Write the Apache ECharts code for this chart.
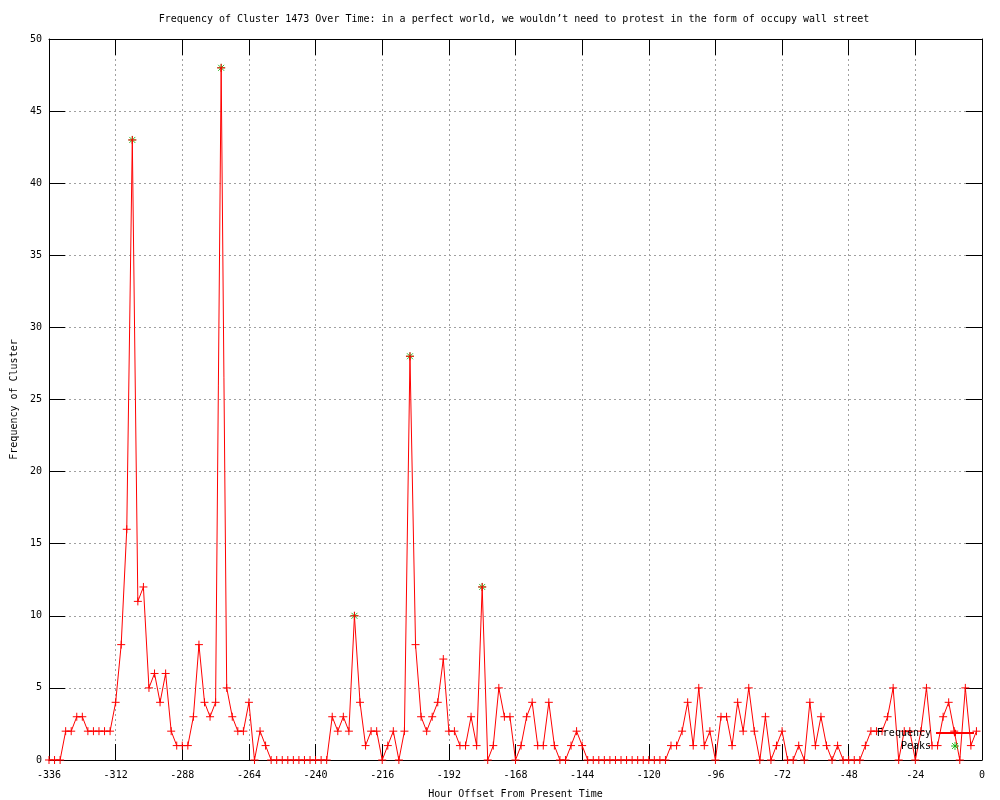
<!DOCTYPE html>
<html>
<head>
<meta charset="utf-8">
<script src="https://cdn.jsdelivr.net/npm/echarts@6/dist/echarts.min.js"></script>
<style>html,body{margin:0;padding:0;background:#fff;}#c{width:1000px;height:800px;}</style>
</head>
<body>
<div id="c"></div>
<script>
const titleText = "Frequency of Cluster 1473 Over Time: in a perfect world, we wouldn\u2019t need to protest in the form of occupy wall street";
const xAxisTitle = "Hour Offset From Present Time";
const yAxisTitle = "Frequency of Cluster";

const hours = [
-336,-334,-332,-330,-328,-326,-324,-322,-320,-318,-316,-314,-312,-310,-308,-306,-304,-302,-300,-298,
-296,-294,-292,-290,-288,-286,-284,-282,-280,-278,-276,-274,-272,-270,-268,-266,-264,-262,-260,-258,
-256,-254,-252,-250,-248,-246,-244,-242,-240,-238,-236,-234,-232,-230,-228,-226,-224,-222,-220,-218,
-216,-214,-212,-210,-208,-206,-204,-202,-200,-198,-196,-194,-192,-190,-188,-186,-184,-182,-180,-178,
-176,-174,-172,-170,-168,-166,-164,-162,-160,-158,-156,-154,-152,-150,-148,-146,-144,-142,-140,-138,
-136,-134,-132,-130,-128,-126,-124,-122,-120,-118,-116,-114,-112,-110,-108,-106,-104,-102,-100,-98,
-96,-94,-92,-90,-88,-86,-84,-82,-80,-78,-76,-74,-72,-70,-68,-66,-64,-62,-60,-58,
-56,-54,-52,-50,-48,-46,-44,-42,-40,-38,-36,-34,-32,-30,-28,-26,-24,-22,-20,-18,
-16,-14,-12,-10,-8,-6,-4,-2
];
const frequency = [
0,0,0,2,2,3,3,2,2,2,2,2,4,8,16,43,11,12,5,6,
4,6,2,1,1,1,3,8,4,3,4,48,5,3,2,2,4,0,2,1,
0,0,0,0,0,0,0,0,0,0,0,3,2,3,2,10,4,1,2,2,
0,1,2,0,2,28,8,3,2,3,4,7,2,2,1,1,3,1,12,0,
1,5,3,3,0,1,3,4,1,1,4,1,0,0,1,2,1,0,0,0,
0,0,0,0,0,0,0,0,0,0,0,0,1,1,2,4,1,5,1,2,
0,3,3,1,4,2,5,2,0,3,0,1,2,0,0,1,0,4,1,3,
1,0,1,0,0,0,0,1,2,2,2,3,5,0,2,2,0,2,5,1,
1,3,4,2,0,5,1,2
];
const peakHours = [-306, -274, -226, -206, -180];
const peakValues = [43, 48, 10, 28, 12];
const xTicks = {min: -336, max: 0, step: 24};
const yTicks = {min: 0, max: 50, step: 5};

const FONT = "'DejaVu Sans Mono', 'Liberation Mono', monospace";
const plusPath = 'path://M0,4L8,4M4,0L4,8';
const starPath = 'path://M0,4L8,4M4,0L4,8M1,1L7,7M7,1L1,7';
const GREEN = '#00b000';
const RED = '#ff0000';

const chart = echarts.init(document.getElementById('c'), null, {renderer: 'canvas'});
const gridLine = {show: true, lineStyle: {color: '#a0a0a0', type: [2, 3], width: 1}};
const axisCommon = {
  axisLine: {show: true, onZero: false, lineStyle: {color: '#000', width: 1}},
  axisTick: {show: true, inside: true, length: 16, lineStyle: {color: '#000', width: 1}}
};

chart.setOption({
  animation: false,
  backgroundColor: '#fff',
  title: {
    text: titleText, left: 509, top: 9, textAlign: 'center',
    textStyle: {fontFamily: FONT, fontSize: 10, fontWeight: 'normal', color: '#000'}
  },
  grid: {left: 49, top: 39, width: 933, height: 721, containLabel: false, outerBoundsMode: 'none'},
  legend: {
    orient: 'vertical', align: 'right', right: 25, top: 727, itemGap: 1, padding: 0,
    itemWidth: 38, itemHeight: 8,
    textStyle: {fontFamily: FONT, fontSize: 10, color: '#000', lineHeight: 12},
    data: [
      {name: 'Frequency'},
      {name: 'Peaks', icon: starPath,
       itemStyle: {color: 'rgba(0,0,0,0)', borderColor: GREEN, borderWidth: 1}}
    ]
  },
  xAxis: [
    Object.assign({
      type: 'value', min: xTicks.min, max: xTicks.max, interval: xTicks.step, position: 'bottom',
      name: xAxisTitle, nameLocation: 'middle', nameGap: 29,
      nameTextStyle: {fontFamily: FONT, fontSize: 10, color: '#000'},
      axisLabel: {fontFamily: FONT, fontSize: 10, color: '#000', margin: 10},
      splitLine: gridLine
    }, axisCommon),
    Object.assign({
      type: 'value', min: xTicks.min, max: xTicks.max, interval: xTicks.step, position: 'top',
      axisLabel: {show: false}, splitLine: {show: false}
    }, axisCommon)
  ],
  yAxis: [
    Object.assign({
      type: 'value', min: yTicks.min, max: yTicks.max, interval: yTicks.step, position: 'left',
      name: yAxisTitle, nameLocation: 'middle', nameGap: 30, nameRotate: 90,
      nameTextStyle: {fontFamily: FONT, fontSize: 10, color: '#000'},
      axisLabel: {fontFamily: FONT, fontSize: 10, color: '#000', margin: 7},
      splitLine: gridLine
    }, axisCommon),
    Object.assign({
      type: 'value', min: yTicks.min, max: yTicks.max, interval: yTicks.step, position: 'right',
      axisLabel: {show: false}, splitLine: {show: false}
    }, axisCommon)
  ],
  series: [
    {
      name: 'Peaks', type: 'scatter', xAxisIndex: 0, yAxisIndex: 0, z: 2,
      symbol: starPath, symbolSize: 8,
      itemStyle: {color: 'rgba(0,0,0,0)', borderColor: GREEN, borderWidth: 1},
      data: peakHours.map((h, i) => [h, peakValues[i]])
    },
    {
      name: 'Frequency', type: 'line', xAxisIndex: 0, yAxisIndex: 0, z: 3,
      symbol: plusPath, symbolSize: 8, showAllSymbol: true,
      lineStyle: {color: RED, width: 1},
      itemStyle: {color: 'rgba(0,0,0,0)', borderColor: RED, borderWidth: 1},
      data: hours.map((h, i) => [h, frequency[i]])
    }
  ]
});
</script>
</body>
</html>
